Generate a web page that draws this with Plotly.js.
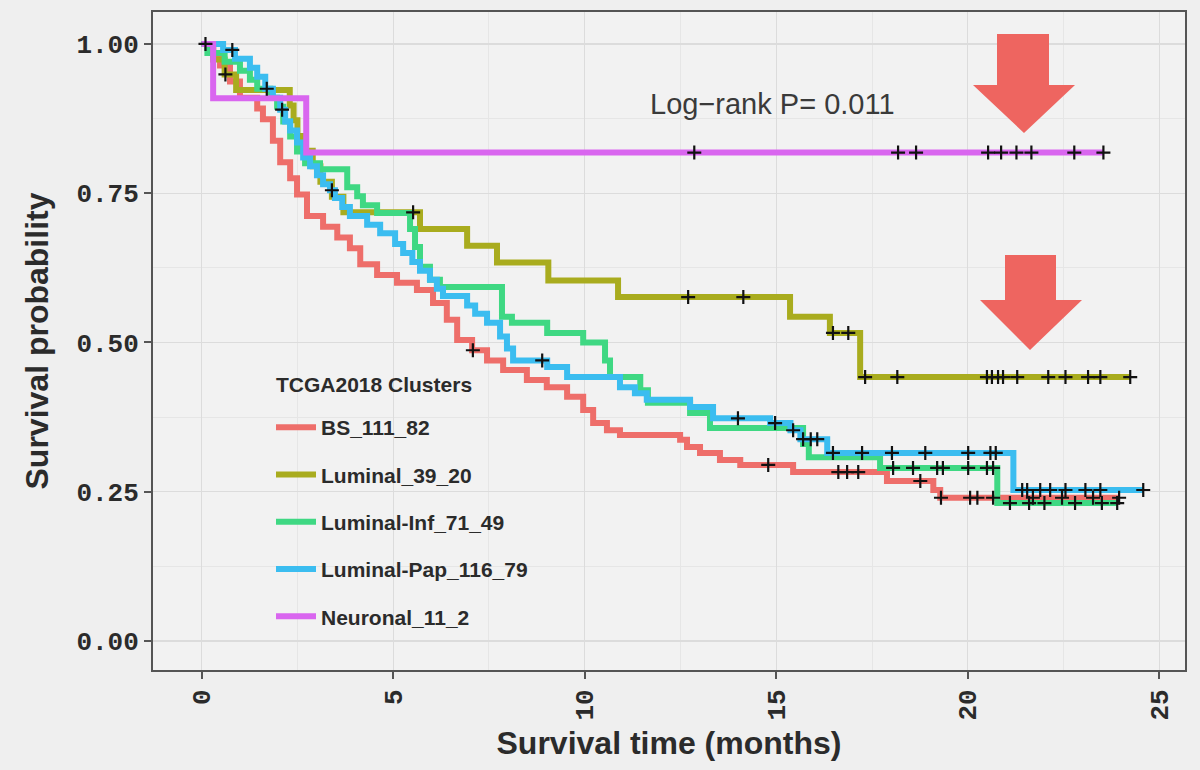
<!DOCTYPE html>
<html>
<head>
<meta charset="utf-8">
<script src="https://cdn.plot.ly/plotly-3.0.1.min.js"></script>
<style>
  html, body { margin: 0; padding: 0; background: #efefef; }
  #chart { width: 1200px; height: 770px; }
</style>
</head>
<body>
<div id="chart"></div>
<script>
// ---------------- DATA ----------------
const groupNames = ["BS_111_82", "Luminal_39_20", "Luminal-Inf_71_49", "Luminal-Pap_116_79", "Neuronal_11_2"];
const groupColors = ["#EE6E6A", "#A9AC1E", "#3FD883", "#3BBDF0", "#D966EF"];

// BS_111_82
const bsTime = [0, 0.30, 0.48, 0.74, 1.00, 1.45, 1.60, 1.86, 2.05, 2.31, 2.49, 2.75, 3.17, 3.54, 3.87, 4.14, 4.58, 5.10, 5.62, 6.04, 6.40, 6.67, 7.06, 7.45, 7.87, 8.49, 9.01, 9.54, 9.96, 10.22, 10.58, 10.92, 12.49, 12.67, 13.01, 13.53, 14.06, 15.44, 17.89, 19.10, 19.28];
const bsSurv = [1.0, 0.982, 0.964, 0.937, 0.910, 0.892, 0.874, 0.838, 0.802, 0.775, 0.748, 0.712, 0.694, 0.676, 0.658, 0.631, 0.613, 0.600, 0.588, 0.566, 0.538, 0.504, 0.487, 0.470, 0.454, 0.437, 0.425, 0.409, 0.387, 0.365, 0.353, 0.345, 0.337, 0.325, 0.315, 0.303, 0.295, 0.283, 0.268, 0.253, 0.240];
const bsCensor = [0.10, 7.08, 14.79, 16.62, 16.85, 17.14, 18.76, 19.30, 20.06, 20.25, 20.66, 21.70, 22.46, 23.27, 23.95];

// Luminal_39_20
const lumTime = [0, 0.30, 0.60, 0.90, 2.30, 2.40, 2.50, 2.60, 2.90, 3.10, 3.40, 3.70, 5.70, 6.93, 7.71, 9.05, 10.87, 15.36, 16.40, 17.19];
const lumSurv = [1.0, 0.974, 0.949, 0.923, 0.897, 0.872, 0.846, 0.821, 0.795, 0.769, 0.744, 0.718, 0.690, 0.662, 0.634, 0.604, 0.576, 0.543, 0.516, 0.442];
const lumCensor = [0.62, 5.52, 12.70, 14.14, 16.48, 16.88, 17.32, 18.16, 20.50, 20.63, 20.79, 20.92, 21.29, 22.10, 22.55, 23.14, 23.46, 24.24];

// Luminal-Inf_71_49
const infTime = [0, 0.15, 0.60, 1.00, 1.26, 1.45, 1.79, 1.97, 2.13, 2.31, 2.49, 2.70, 3.09, 3.80, 4.06, 4.21, 4.58, 5.44, 5.57, 5.70, 5.96, 6.22, 7.84, 8.10, 9.02, 9.96, 10.53, 10.66, 11.45, 11.65, 12.75, 13.27, 15.70, 15.85, 17.71, 20.77];
const infSurv = [1.0, 0.985, 0.970, 0.955, 0.940, 0.925, 0.910, 0.895, 0.870, 0.845, 0.820, 0.800, 0.790, 0.760, 0.745, 0.730, 0.717, 0.690, 0.660, 0.627, 0.605, 0.593, 0.543, 0.533, 0.516, 0.500, 0.470, 0.442, 0.420, 0.399, 0.382, 0.357, 0.330, 0.308, 0.290, 0.231];
const infCensor = [18.05, 18.57, 19.20, 19.35, 20.01, 20.50, 20.66, 21.10, 21.60, 22.00, 22.80, 23.50, 23.90];

// Luminal-Pap_116_79
const papTime = [0, 0.56, 0.87, 1.26, 1.45, 1.66, 1.86, 2.05, 2.18, 2.31, 2.49, 2.65, 2.83, 3.01, 3.17, 3.35, 3.48, 3.67, 3.87, 4.32, 4.66, 5.05, 5.26, 5.50, 5.70, 5.96, 6.14, 6.30, 6.93, 7.14, 7.45, 7.79, 7.97, 8.13, 9.02, 9.54, 10.92, 11.31, 11.62, 12.75, 13.35, 14.84, 15.37, 15.63, 16.33, 21.19];
const papSurv = [1.0, 0.990, 0.975, 0.960, 0.945, 0.925, 0.910, 0.890, 0.870, 0.855, 0.835, 0.810, 0.795, 0.780, 0.765, 0.755, 0.742, 0.727, 0.712, 0.697, 0.683, 0.665, 0.650, 0.635, 0.620, 0.605, 0.590, 0.578, 0.562, 0.548, 0.533, 0.510, 0.490, 0.470, 0.459, 0.442, 0.425, 0.415, 0.404, 0.392, 0.373, 0.365, 0.353, 0.338, 0.315, 0.253];
const papCensor = [0.80, 1.70, 2.10, 3.40, 8.89, 14.00, 14.97, 15.44, 15.70, 15.90, 16.07, 16.48, 17.24, 18.02, 18.89, 20.01, 20.59, 20.73, 21.42, 21.55, 21.89, 22.15, 22.55, 23.07, 23.46, 24.58];

// Neuronal_11_2
const neuTime = [0, 0.30, 2.73];
const neuSurv = [1.0, 0.909, 0.818];
const neuCensor = [12.86, 18.18, 18.65, 20.53, 20.87, 21.27, 21.66, 22.78, 23.54];

const pValueText = "Log\u2212rank P= 0.011";
const legendTitle = "TCGA2018 Clusters";
const xTickVals = [0, 5, 10, 15, 20, 25];
const yTickVals = [0, 0.25, 0.5, 0.75, 1.0];

// ---------------- BUILD ----------------
const groups = [
  {t: bsTime, s: bsSurv, c: bsCensor},
  {t: lumTime, s: lumSurv, c: lumCensor},
  {t: infTime, s: infSurv, c: infCensor},
  {t: papTime, s: papSurv, c: papCensor},
  {t: neuTime, s: neuSurv, c: neuCensor}
];

function survAt(times, survs, t) {
  let v = survs[0];
  for (let i = 0; i < times.length; i++) { if (times[i] <= t) v = survs[i]; }
  return v;
}

const lineTraces = [];
const censorTraces = [];
groups.forEach((g, i) => {
  const lastC = Math.max.apply(null, g.c);
  const xs = g.t.slice(), ys = g.s.slice();
  if (lastC > xs[xs.length - 1]) { xs.push(lastC); ys.push(ys[ys.length - 1]); }
  lineTraces.push({
    type: 'scatter', mode: 'lines', x: xs, y: ys, name: groupNames[i],
    legendgroup: 'g' + i, line: {shape: 'hv', color: groupColors[i], width: 6},
    hoverinfo: 'skip'
  });
  censorTraces.push({
    type: 'scatter', mode: 'markers', x: g.c, y: g.c.map(t => survAt(g.t, g.s, t)),
    legendgroup: 'g' + i, showlegend: false,
    marker: {symbol: 'cross-thin', size: 10, line: {color: '#111', width: 2.2}, color: '#111'},
    hoverinfo: 'skip'
  });
});

// pixel -> paper helpers for decorative elements
const PL = 153, PR = 1185, PT = 12, PB = 670;
function px(x) { return (x - PL) / (PR - PL); }
function py(y) { return 1 - (y - PT) / (PB - PT); }
function arrowPath(x1, x2, yTop, yHead, hx1, hx2, tipX, tipY) {
  return 'M' + px(x1) + ',' + py(yTop) + ' L' + px(x2) + ',' + py(yTop) + ' L' + px(x2) + ',' + py(yHead) +
    ' L' + px(hx2) + ',' + py(yHead) + ' L' + px(tipX) + ',' + py(tipY) + ' L' + px(hx1) + ',' + py(yHead) +
    ' L' + px(x1) + ',' + py(yHead) + ' Z';
}

const sansFam = '"Liberation Sans", Arial, sans-serif';
const monoFont = {family: '"Liberation Mono", "DejaVu Sans Mono", monospace', size: 26, color: '#2b2b2b', weight: 'bold'};

const layout = {
  width: 1200, height: 770,
  paper_bgcolor: '#efefef', plot_bgcolor: '#f2f2f2',
  margin: {l: PL, r: 1200 - PR, t: PT, b: 770 - PB},
  showlegend: true,
  legend: {
    x: px(271), y: py(407), xanchor: 'left', yanchor: 'top',
    bgcolor: 'rgba(0,0,0,0)', traceorder: 'grouped', tracegroupgap: 17,
    font: {family: sansFam, size: 21, color: '#2b2b2b', weight: 'bold'},
    itemwidth: 40
  },
  xaxis: {
    range: [-1.27, 25.67], tickvals: xTickVals, ticktext: xTickVals.map(String),
    tickangle: -90, tickfont: monoFont, ticks: 'outside', ticklen: 7, tickwidth: 2, tickcolor: '#555',
    showgrid: true, gridcolor: '#dcdcdc', gridwidth: 1.2,
    minor: {dtick: 2.5, tick0: 0, showgrid: true, gridcolor: '#e6e6e6', gridwidth: 1},
    zeroline: false, showline: true, linecolor: '#555', linewidth: 2, mirror: true,
    title: {text: 'Survival time (months)', font: {family: sansFam, size: 32, color: '#2b2b2b', weight: 'bold'}, standoff: 12}
  },
  yaxis: {
    range: [-0.0485, 1.0535], tickvals: yTickVals, ticktext: yTickVals.map(v => v.toFixed(2)),
    tickfont: monoFont, ticks: 'outside', ticklen: 7, tickwidth: 2, tickcolor: '#555',
    showgrid: true, gridcolor: '#dcdcdc', gridwidth: 1.2,
    minor: {dtick: 0.125, tick0: 0, showgrid: true, gridcolor: '#e6e6e6', gridwidth: 1},
    zeroline: false, showline: true, linecolor: '#555', linewidth: 2, mirror: true,
    title: {text: 'Survival probability', font: {family: sansFam, size: 32, color: '#2b2b2b', weight: 'bold'}, standoff: 18}
  },
  annotations: [
    {
      x: 14.9, y: 0.90, xref: 'x', yref: 'y', text: pValueText, showarrow: false,
      font: {family: sansFam, size: 29, color: '#3a3a3a'}
    },
    {
      x: px(274), y: py(385), xref: 'paper', yref: 'paper', xanchor: 'left', yanchor: 'middle',
      text: legendTitle, showarrow: false,
      font: {family: sansFam, size: 21, color: '#2b2b2b', weight: 'bold'}
    }
  ],
  shapes: [
    {type: 'path', xref: 'paper', yref: 'paper', path: arrowPath(997, 1049, 34, 85, 973, 1075, 1024, 133), fillcolor: '#EE6560', line: {width: 0}},
    {type: 'path', xref: 'paper', yref: 'paper', path: arrowPath(1005, 1056, 255, 300, 980, 1082, 1030, 350), fillcolor: '#EE6560', line: {width: 0}}
  ]
};

Plotly.newPlot('chart', lineTraces.concat(censorTraces), layout, {staticPlot: true, displayModeBar: false});
</script>
</body>
</html>
